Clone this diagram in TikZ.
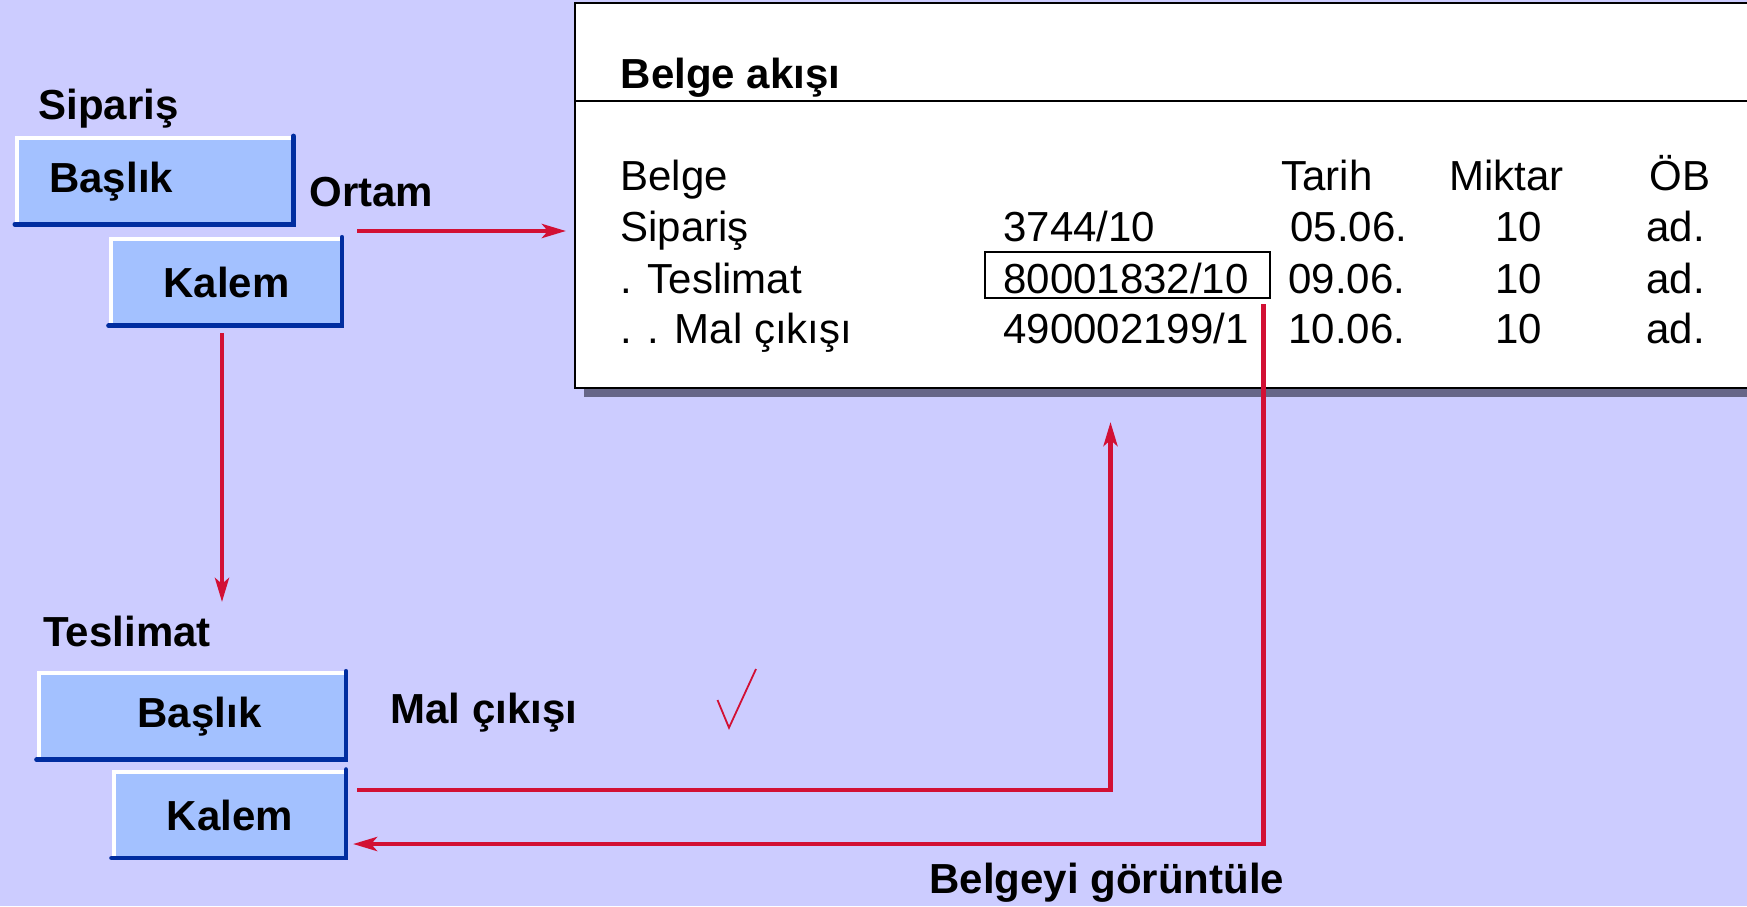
\documentclass[tikz,border=0pt]{standalone}
\usepackage{fontspec}
\setmainfont{Liberation Sans}
\usetikzlibrary{arrows.meta}
\definecolor{bg}{RGB}{204,204,255}
\definecolor{boxfill}{RGB}{163,193,255}
\definecolor{boxdark}{RGB}{0,45,160}
\definecolor{redline}{RGB}{210,16,52}
\definecolor{shadowc}{RGB}{102,102,136}
\tikzset{
  lbl/.style={font=\fontsize{21pt}{25pt}\selectfont\bfseries, inner sep=0, anchor=base west},
  cell/.style={font=\fontsize{21pt}{25pt}\selectfont, inner sep=0, anchor=base west},
  bluebox/.style={fill=boxfill, inner sep=0, font=\fontsize{21pt}{25pt}\selectfont\bfseries},
  conn/.style={draw=redline, line width=2.2pt},
  tipped/.style={-{Stealth[length=12pt,width=7pt,inset=3pt]}}
}
\newcommand\bevelbox[1]{%
  \draw[white, line width=2pt] ([xshift=1pt]#1.south west) -- ([shift={(1pt,-1pt)}]#1.north west) -- ([yshift=-1pt]#1.north east);
  \draw[boxdark, line width=2.4pt, line cap=round] ([xshift=-1.2pt]#1.north east) -- ([shift={(-1.2pt,1.2pt)}]#1.south east) -- ([yshift=1.2pt]#1.south west);
}
\begin{document}
\begin{tikzpicture}[x=0.5pt,y=-0.5pt]
\useasboundingbox (0,0) rectangle (1747,906);
\fill[bg] (0,0) rectangle (1747,906);

% document-flow window
\begin{scope}
\clip (0,0) rectangle (1747,906);
\fill[shadowc] (584,11) rectangle (1770,397);
\draw[fill=white, line width=1.2pt] (575,3) rectangle (1765,388);
\draw[line width=1.2pt] (575,101) -- (1765,101);
\end{scope}
\node[lbl] (title) at (620.5,88) {Belge akışı};

\node[cell] (h1) at (620,190) {Belge};
\node[cell] (h3) at (1281,190) {Tarih};
\node[cell] (h4) at (1449,190) {Miktar};
\node[cell] (h5) at (1649,190) {ÖB};

\node[cell] (r11) at (620,241) {Sipariş};
\node[cell] (r12) at (1003,241) {3744/10};
\node[cell] (r13) at (1290,241) {05.06.};
\node[cell] (r14) at (1495,241) {10};
\node[cell] (r15) at (1646,241) {ad.};

\node[cell] (r21) at (620,293) {. Teslimat};
\node[cell] (r22) at (1003,293) {80001832/10};
\node[cell] (r23) at (1288,293) {09.06.};
\node[cell] (r24) at (1495,293) {10};
\node[cell] (r25) at (1646,293) {ad.};

\node[cell] (r31) at (620,343) {. . Mal çıkışı};
\node[cell] (r32) at (1003,343) {490002199/1};
\node[cell] (r33) at (1288,343) {10.06.};
\node[cell] (r34) at (1495,343) {10};
\node[cell] (r35) at (1646,343) {ad.};

\node[draw, line width=1pt, minimum width=142.5pt, minimum height=23pt, inner sep=0] (hl) at (1127.5,275) {};

% left labels and boxes
\node[lbl] (sip) at (38,119) {Sipariş};
\node[bluebox, minimum width=140pt, minimum height=45pt, text width=106pt, align=left, inner xsep=17pt] (b1) at (155.3,181.4) {Başlık};
\bevelbox{b1}
\node[bluebox, minimum width=117.5pt, minimum height=45pt] (k1) at (226.5,282.7) {Kalem};
\bevelbox{k1}
\node[lbl] (ortam) at (309,206.7) {Ortam};

\node[lbl] (tes) at (43,646.7) {Teslimat};
\node[bluebox, minimum width=155.5pt, minimum height=45pt] (b2) at (192.5,716.7) {\hspace*{7pt}Başlık};
\bevelbox{b2}
\node[bluebox, minimum width=118pt, minimum height=45pt] (k2) at (230,815) {Kalem};
\bevelbox{k2}
\node[lbl] (mal) at (390,723) {Mal çıkışı};
\node[lbl] (bg2) at (929,893) {Belgeyi görüntüle};

% check mark
\draw[redline, line width=0.9pt] (717.5,700) -- (729,727.7) -- (756,669);

% connectors
\coordinate (o1) at (357,231);
\coordinate (o2) at (566,231);
\draw[conn, tipped] (o1) -- (o2);

\coordinate (v1) at (222,333);
\coordinate (v2) at (222,602);
\draw[conn, tipped] (v1) -- (v2);

\coordinate (u1) at (357,790);
\coordinate (u2) at (1110.5,422);
\draw[conn, tipped] (u1) -| (u2);

\coordinate (d1) at ([shift={(-3.75pt,-2.5pt)}]hl.south east);
\coordinate (d2) at (353,844);
\draw[conn, tipped] (d1) |- (d2);
\end{tikzpicture}
\end{document}
